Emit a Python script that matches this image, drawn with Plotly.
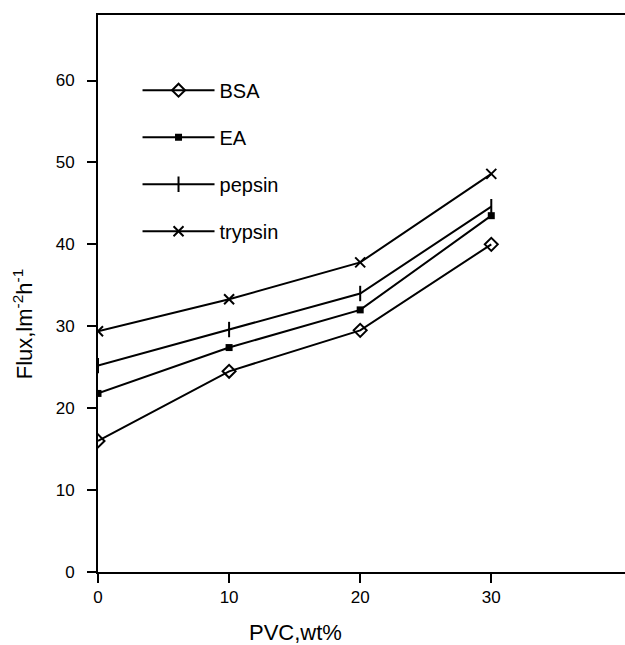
import plotly.graph_objects as go

pvc = [0, 10, 20, 30]
bsa = [16.0, 24.5, 29.5, 40.0]
ea = [21.8, 27.4, 32.0, 43.5]
pepsin = [25.2, 29.6, 34.0, 44.6]
trypsin = [29.4, 33.3, 37.8, 48.6]

series = [
    ("BSA", bsa, dict(symbol="diamond-open", size=10, line=dict(width=2, color="black"))),
    ("EA", ea, dict(symbol="square", size=7, color="black")),
    ("pepsin", pepsin, dict(symbol="line-ns-open", size=11, line=dict(width=2, color="black"))),
    ("trypsin", trypsin, dict(symbol="x-thin-open", size=10, line=dict(width=2, color="black"))),
]

fig = go.Figure()
for name, vals, mk in series:
    fig.add_trace(go.Scatter(
        x=pvc, y=vals, name=name, mode="lines+markers",
        line=dict(color="black", width=2), marker=mk,
        legendgroup=name,
    ))

fig.update_layout(
    width=625, height=645,
    margin=dict(l=98, r=0, t=15, b=73, autoexpand=False),
    paper_bgcolor="white", plot_bgcolor="white",
    font=dict(family="Liberation Sans, Arial, sans-serif", color="black"),
    showlegend=True,
    legend=dict(x=0.075, y=0.9, xanchor="left", yanchor="top",
                font=dict(size=20), tracegroupgap=18, itemwidth=72,
                bgcolor="rgba(0,0,0,0)"),
    xaxis=dict(range=[0, 40.2], tickvals=[0, 10, 20, 30], showgrid=False, zeroline=False,
               automargin=False,
               showline=True, linecolor="black", linewidth=2, mirror=True,
               ticks="outside", ticklen=9, tickwidth=2, tickcolor="black",
               tickfont=dict(size=17)),
    yaxis=dict(range=[0, 68], tickvals=[0, 10, 20, 30, 40, 50, 60], showgrid=False, zeroline=False,
               automargin=False,
               showline=True, linecolor="black", linewidth=2,
               ticks="outside", ticklen=9, tickwidth=2, tickcolor="black",
               tickfont=dict(size=17), ticklabelstandoff=9),
    annotations=[
        dict(text="PVC,wt%", x=0.374, y=-0.108, xref="paper", yref="paper",
             showarrow=False, font=dict(size=22), xanchor="center", yanchor="middle"),
        dict(text="Flux,lm<sup>-2</sup>h<sup>-1</sup>", x=-0.142, y=0.445, xref="paper", yref="paper",
             showarrow=False, font=dict(size=22), textangle=-90, xanchor="center", yanchor="middle"),
    ],
)

fig.write_html(
    "out.html",
    config={"displayModeBar": False},
    post_script="document.body.style.margin='0';document.body.style.overflow='hidden';",
)
